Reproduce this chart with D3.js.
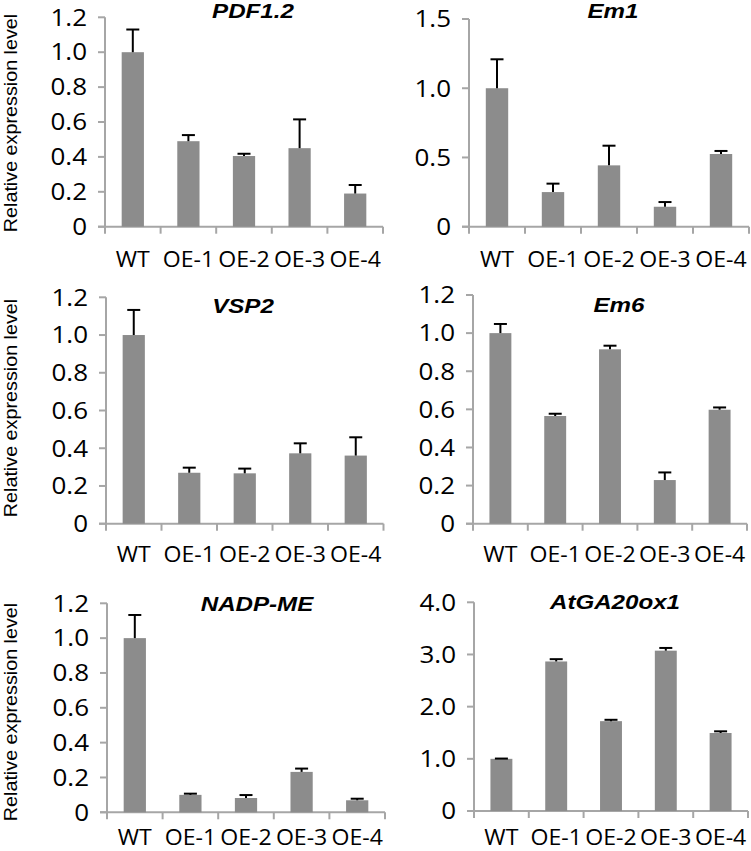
<!DOCTYPE html>
<html><head><meta charset="utf-8">
<script src="https://cdn.jsdelivr.net/npm/d3@7"></script>
<style>body{margin:0;background:#fff}svg{display:block}</style>
</head><body>
<svg id="c" width="751" height="851"></svg>
<script>
const categories = ["WT","OE-1","OE-2","OE-3","OE-4"];
const genes = ["PDF1.2","Em1","VSP2","Em6","NADP-ME","AtGA20ox1"];
const pdf12 = [1.0, 0.49, 0.405, 0.45, 0.19];
const pdf12Err = [0.13, 0.035, 0.013, 0.165, 0.049];
const em1 = [1.0, 0.25, 0.443, 0.144, 0.525];
const em1Err = [0.209, 0.061, 0.142, 0.034, 0.022];
const vsp2 = [1.0, 0.27, 0.267, 0.373, 0.361];
const vsp2Err = [0.133, 0.027, 0.025, 0.053, 0.097];
const em6 = [1.0, 0.565, 0.915, 0.229, 0.598];
const em6Err = [0.048, 0.012, 0.019, 0.04, 0.012];
const nadpme = [1.0, 0.1, 0.082, 0.232, 0.069];
const nadpmeErr = [0.133, 0.007, 0.017, 0.019, 0.009];
const ga20 = [1.0, 2.866, 1.722, 3.073, 1.495];
const ga20Err = [0.005, 0.044, 0.026, 0.052, 0.032];
const yMax = [1.2, 1.5, 1.2, 1.2, 1.2, 4.0];
const yStep = [0.2, 0.5, 0.2, 0.2, 0.2, 1.0];
const yLabel = "Relative expression level";

const values = [pdf12, em1, vsp2, em6, nadpme, ga20];
const errors = [pdf12Err, em1Err, vsp2Err, em6Err, nadpmeErr, ga20Err];

// layout: plot rectangles, title position, x-label baseline offset, y-label centre
const layout = [
  {x0:105, x1:383, y0:226.7, yt:17.3, tx:253, ty:17.5, lb:40, yl:123},
  {x0:469, x1:749, y0:226.7, yt:19,   tx:613, ty:17.5, lb:40},
  {x0:106, x1:383.5, y0:523.7, yt:297.3, tx:243, ty:313, lb:38, yl:408},
  {x0:473, x1:747, y0:523.7, yt:295,  tx:619, ty:312, lb:38},
  {x0:107, x1:385, y0:812.3, yt:603.3, tx:257, ty:610.5, lb:32.5, yl:712},
  {x0:474, x1:748, y0:811,   yt:602.3, tx:615, ty:609, lb:33.8}
];

const svg = d3.select("#c");
const axisColor = "#a6a6a6";
const barColor = "#8c8c8c";
const tickFont = "'Open Sans', sans-serif";

function fmt(v){ return v === 0 ? "0" : v.toFixed(1); }

function stretchedText(g, x, y, txt, opts){
  const t = g.append("g").attr("transform", `translate(${x},${y})`)
    .append("text")
    .attr("transform", `scale(${opts.sx||1},1)`)
    .attr("text-anchor", opts.anchor||"middle")
    .attr("font-family", opts.family||tickFont)
    .attr("font-size", opts.size)
    .attr("fill", "#000")
    .text(txt);
  if (opts.weight) t.attr("font-weight", opts.weight);
  if (opts.style) t.attr("font-style", opts.style);
  if (opts.dy) t.attr("dy", opts.dy);
  return t;
}

layout.forEach((L, i) => {
  const g = svg.append("g");
  const x = d3.scaleBand().domain(categories).range([L.x0, L.x1]).paddingInner(0.6).paddingOuter(0.3);
  const y = d3.scaleLinear().domain([0, yMax[i]]).range([L.y0, L.yt]);
  const ticks = d3.range(0, yMax[i] + yStep[i]/2, yStep[i]);

  // y axis
  g.append("line").attr("x1", L.x0).attr("x2", L.x0).attr("y1", y(0)).attr("y2", y(yMax[i]))
    .attr("stroke", axisColor).attr("stroke-width", 2);
  g.selectAll(".yt").data(ticks).enter().append("line")
    .attr("x1", L.x0 - 7).attr("x2", L.x0).attr("y1", d => y(d)).attr("y2", d => y(d))
    .attr("stroke", axisColor).attr("stroke-width", 2);
  ticks.forEach(t => {
    stretchedText(g, L.x0 - 18, y(t), fmt(t), {size: 23, sx: 1.13, anchor: "end", dy: "0.36em"});
  });

  // x axis
  g.append("line").attr("x1", L.x0 - 7).attr("x2", L.x1).attr("y1", L.y0).attr("y2", L.y0)
    .attr("stroke", axisColor).attr("stroke-width", 2);
  const bounds = categories.map(c => x(c) - x.step()*x.paddingOuter()).concat([L.x1]);
  g.selectAll(".xt").data(bounds).enter().append("line")
    .attr("x1", d => d).attr("x2", d => d).attr("y1", L.y0).attr("y2", L.y0 + 7)
    .attr("stroke", axisColor).attr("stroke-width", 2);
  categories.forEach(c => {
    stretchedText(g, x(c) + x.bandwidth()/2, L.y0 + L.lb, c, {size: 22, sx: 1.05});
  });

  // bars
  g.selectAll(".bar").data(values[i]).enter().append("rect")
    .attr("x", (d, j) => x(categories[j]))
    .attr("width", x.bandwidth())
    .attr("y", d => y(d))
    .attr("height", d => y(0) - y(d))
    .attr("fill", barColor);

  // error bars (upper only)
  const eb = g.selectAll(".err").data(values[i]).enter().append("g");
  eb.append("line")
    .attr("x1", (d, j) => x(categories[j]) + x.bandwidth()/2)
    .attr("x2", (d, j) => x(categories[j]) + x.bandwidth()/2)
    .attr("y1", d => y(d))
    .attr("y2", (d, j) => y(d + errors[i][j]))
    .attr("stroke", "#000").attr("stroke-width", 2);
  eb.append("line")
    .attr("x1", (d, j) => x(categories[j]) + x.bandwidth()/2 - 6.5)
    .attr("x2", (d, j) => x(categories[j]) + x.bandwidth()/2 + 6.5)
    .attr("y1", (d, j) => y(d + errors[i][j]))
    .attr("y2", (d, j) => y(d + errors[i][j]))
    .attr("stroke", "#000").attr("stroke-width", 2);

  // title
  stretchedText(g, L.tx, L.ty, genes[i], {size: 21, family: "'Liberation Sans', Arial, sans-serif", weight: "bold", style: "italic", sx: 1.15});

  // y label for left column
  if (L.yl !== undefined) {
    g.append("text")
      .attr("transform", `translate(17,${L.yl}) rotate(-90) scale(1.04,1)`)
      .attr("text-anchor", "middle")
      .attr("font-family", "'Liberation Sans', Arial, sans-serif")
      .attr("font-size", 19)
      .attr("fill", "#000")
      .text(yLabel);
  }
});
</script>
</body></html>
